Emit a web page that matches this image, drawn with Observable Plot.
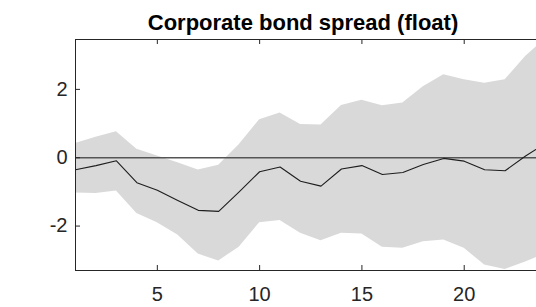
<!DOCTYPE html>
<html><head><meta charset="utf-8">
<script src="https://cdn.jsdelivr.net/npm/d3@7"></script>
<script src="https://cdn.jsdelivr.net/npm/@observablehq/plot@0.6"></script>
<style>
html,body{margin:0;padding:0;background:#fff;overflow:hidden;width:536px;height:307px}
#wrap{position:relative;width:536px;height:307px;overflow:hidden}
#title{position:absolute;left:0;width:606px;top:10px;line-height:22px;text-align:center;font:bold 22px "Liberation Sans",Arial,sans-serif;color:#000;white-space:nowrap}
#chart{position:absolute;left:0;top:0;width:570px;height:307px}
#chart svg{max-width:none !important;height:307px !important}
</style></head><body>
<div id="wrap"><div id="chart"></div><div id="title"></div></div>
<script>
const title = "Corporate bond spread (float)";
const horizon = [1,2,3,4,5,6,7,8,9,10,11,12,13,14,15,16,17,18,19,20,21,22,23,24,25];
const median = [-0.35,-0.23,-0.09,-0.73,-0.95,-1.25,-1.54,-1.57,-1.0,-0.41,-0.27,-0.69,-0.83,-0.33,-0.23,-0.49,-0.43,-0.2,-0.02,-0.1,-0.35,-0.38,0.05,0.43,0.7];
const upper = [0.42,0.6,0.76,0.25,0.05,-0.15,-0.36,-0.22,0.38,1.11,1.31,0.97,0.96,1.53,1.68,1.52,1.6,2.08,2.43,2.28,2.18,2.28,2.96,3.5,3.8];
const lower = [-1.03,-1.05,-0.97,-1.63,-1.9,-2.26,-2.82,-3.02,-2.62,-1.9,-1.84,-2.21,-2.43,-2.21,-2.23,-2.62,-2.65,-2.46,-2.41,-2.65,-3.14,-3.27,-3.05,-2.8,-2.6];
const xTicks = [5,10,15,20];
const yTicks = [-2,0,2];
const zeroLine = [0];

const data = horizon.map((h,i)=>({h, m: median[i], lo: lower[i], hi: upper[i]}));

const W = 570, H = 307, mL = 75, mR = 4, mT = 39, mB = 37;
const plotW = W - mL - mR, plotH = H - mT - mB;
const axisColor = "#262626";

document.getElementById("title").textContent = title;

const chart = Plot.plot({
  width: W, height: H,
  marginLeft: mL, marginRight: mR, marginTop: mT, marginBottom: mB,
  style: {fontFamily: '"Liberation Sans", Arial, sans-serif', background: "transparent", color: axisColor, overflow: "visible", maxWidth: "none"},
  x: {domain: [1, 25]},
  y: {domain: [-3.3, 3.46]},
  marks: [
    Plot.areaY(data, {x: "h", y1: "lo", y2: "hi", fill: "#d9d9d9", clip: true}),
    Plot.ruleY(zeroLine, {y: d => d, stroke: "#555", strokeWidth: 1.6, clip: true}),
    Plot.lineY(data, {x: "h", y: "m", stroke: "#1e1e1e", strokeWidth: 1.1, clip: true}),
    Plot.frame({stroke: axisColor, strokeWidth: 1}),
    Plot.tickX(xTicks, {x: d => d, insetTop: plotH - 5, stroke: axisColor}),
    Plot.tickX(xTicks, {x: d => d, insetBottom: plotH - 5, stroke: axisColor}),
    Plot.tickY(yTicks, {y: d => d, insetRight: plotW - 5, stroke: axisColor}),
    Plot.axisX({ticks: xTicks, tickSize: 0, tickPadding: 16, fontSize: 20, label: null, tickFormat: d => String(d)}),
    Plot.axisY({ticks: yTicks, tickSize: 0, tickPadding: 8, fontSize: 20, label: null, tickFormat: d => d < 0 ? "-" + Math.abs(d) : String(d)})
  ]
});
document.getElementById("chart").appendChild(chart);
</script>
</body></html>
